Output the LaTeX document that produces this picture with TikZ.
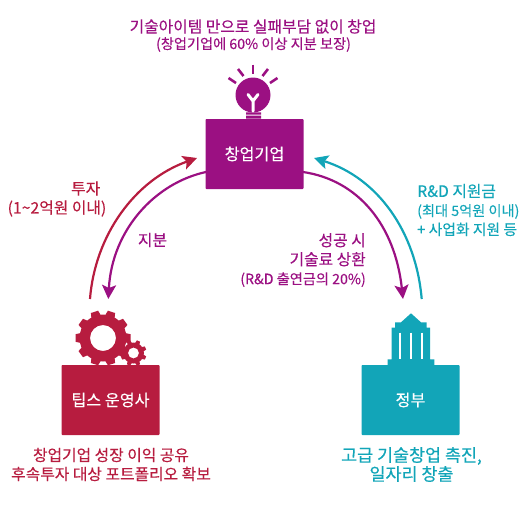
\documentclass[tikz,border=0pt]{standalone}
\usepackage{fontspec}
\setmainfont{Noto Sans CJK KR}[FakeBold=0.3]
\usetikzlibrary{arrows.meta}
\definecolor{startuppurple}{RGB}{155,16,130}
\definecolor{tipsred}{RGB}{183,28,63}
\definecolor{govteal}{RGB}{18,165,184}
\newcommand{\tightline}{\fontsize{14.2}{19}\selectfont}

\begin{document}
\begin{tikzpicture}[x=1pt, y=-1pt,
    actorbox/.style={rectangle, rounded corners=0.8pt, minimum width=98pt, minimum height=70pt, inner sep=0pt,
        text=white, font=\fontsize{16.2}{18}\selectfont},
    flow/.style={-{Stealth[length=14pt, width=14pt, inset=3pt]}, line width=2.2pt},
    bigtext/.style={font=\fontsize{15.8}{19}\selectfont, align=center, inner sep=0pt},
    ray/.style={startuppurple, line width=2.6pt},
]
    \useasboundingbox (0,0) rectangle (523,512);

    % bulb
    \fill[startuppurple] (253,95) circle (17.5);
    \fill[startuppurple] (245.5,106) rectangle (260.5,111);
    \fill[startuppurple] (246,112.3) rectangle (261,114.6) (246,115.6) rectangle (261,118.5);
    \draw[white, line width=3pt, line cap=round] (253,111) -- (253,101) -- (248,94.5) (253,101) -- (258,94.5);
    \draw[ray] (253,64.5) -- (253,73.5);
    \draw[ray] (238,69) -- (243.5,76);
    \draw[ray] (268,69) -- (262.5,76);
    \draw[ray] (228.5,78) -- (236,83);
    \draw[ray] (277.5,78) -- (270,83);

    % gears
    \fill[tipsred, even odd rule] (103,338) circle (23.5) (103,338) circle (13);
    \foreach \a in {0,36,...,324} {
        \fill[tipsred, shift={(103,338)}, rotate=\a+18] (-5,-22) -- (-3.8,-27.5) -- (3.8,-27.5) -- (5,-22) -- cycle;
    }
    \fill[tipsred, even odd rule] (133.5,353) circle (10.5) (133.5,353) circle (5.5);
    \foreach \a in {0,45,...,315} {
        \fill[tipsred, shift={(133.5,353)}, rotate=\a+22.5] (-2.4,-9.5) -- (-1.7,-13) -- (1.7,-13) -- (2.4,-9.5) -- cycle;
    }

    % dome
    \fill[govteal] (411,313.3) -- (421,322.3) -- (426.7,322.3) -- (426.7,327.7) -- (430,327.7) -- (430,359.3)
        -- (434.3,359.3) -- (434.3,366) -- (387.7,366) -- (387.7,359.3) -- (391.7,359.3) -- (391.7,327.7)
        -- (395,327.7) -- (395,322.3) -- (401,322.3) -- cycle;
    \foreach \x in {400,411,421.7} {
        \draw[white, line width=1.8pt] (\x,332.5) -- (\x,359);
    }

    \node[actorbox, fill=startuppurple] (startup) at (254.5,154) {창업기업};
    \node[actorbox, fill=tipsred] (tips) at (110.5,400) {팁스 운영사};
    \node[actorbox, fill=govteal] (gov) at (410.5,400) {정부};

    \coordinate (invest-from) at (90,299);
    \coordinate (invest-to) at (197,158);
    \coordinate (equity-from) at (206,172);
    \coordinate (equity-to) at (108.3,299);
    \coordinate (royalty-from) at (303,172);
    \coordinate (royalty-to) at (403,299);
    \coordinate (grant-from) at (421.7,299);
    \coordinate (grant-to) at (314,158);

    \draw[flow, tipsred] (invest-from) .. controls (95,235) and (135,180) .. (invest-to);
    \draw[flow, startuppurple] (equity-from) .. controls (155,183) and (112,230) .. (equity-to);
    \draw[flow, startuppurple] (royalty-from) .. controls (358,180) and (395,225) .. (royalty-to);
    \draw[flow, govteal] (grant-from) .. controls (416,232) and (378,178) .. (grant-to);

    \node[bigtext, startuppurple] (goal-top) at (253,26.5) {기술아이템 만으로 실패부담 없이 창업};
    \node[bigtext, startuppurple] (goal-sub) at (253.5,44.5) {\tightline(창업기업에 60\% 이상 지분 보장)};

    \node[bigtext, tipsred, align=right, anchor=east] (invest-label) at (106.5,199) {투자\hspace*{6pt}\\(1\textasciitilde 2억원 이내)};
    \node[bigtext, startuppurple] (equity-label) at (152.5,240) {지분};
    \node[bigtext, startuppurple, align=right, anchor=east] (royalty-label) at (366,260) {성공 시\\기술료 상환\\{\tightline(R\&D 출연금의 20\%)}};
    \node[bigtext, govteal, align=left, anchor=west] (grant-label) at (417,210) {R\&D 지원금\\{\tightline(최대 5억원 이내)}\\{\fontsize{14.8}{19}\selectfont + 사업화 지원 등}};

    \node[bigtext, tipsred] (tips-note) at (111,464.5) {창업기업 성장 이익 공유\\후속투자 대상 포트폴리오 확보};
    \node[bigtext, govteal, font=\fontsize{17.4}{19}\selectfont] (gov-note) at (411.5,464.5) {고급 기술창업 촉진,\\일자리 창출};
\end{tikzpicture}
\end{document}
